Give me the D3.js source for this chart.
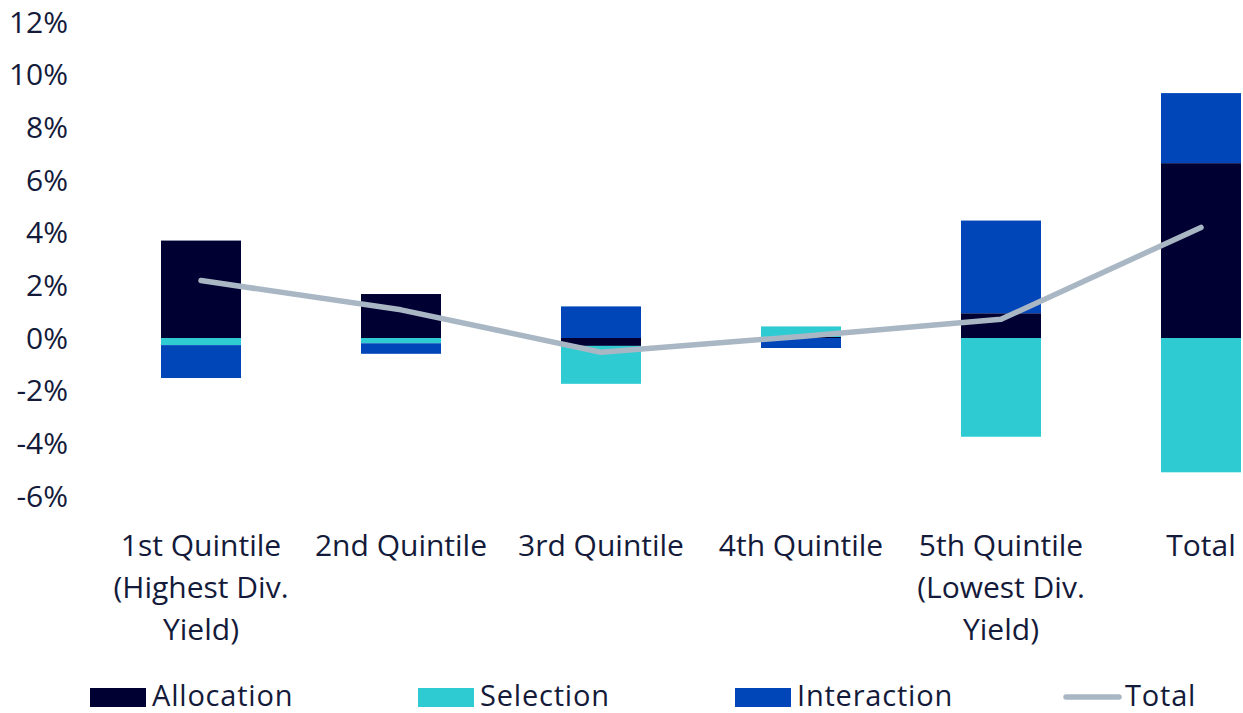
<!DOCTYPE html>
<html>
<head>
<meta charset="utf-8">
<script src="https://cdn.jsdelivr.net/npm/d3@7"></script>
<style>
  body { margin: 0; background: #fff; }
  text { font-family: 'Open Sans', sans-serif; fill: #141a3a; }
</style>
</head>
<body>
<svg id="chart"></svg>
<script>
const width = 1243
const height = 713

// data (percent)
const categories = [
  ['1st Quintile', '(Highest Div.', 'Yield)'],
  ['2nd Quintile'],
  ['3rd Quintile'],
  ['4th Quintile'],
  ['5th Quintile', '(Lowest Div.', 'Yield)'],
  ['Total'],
]
const allocation = [3.7, 1.67, -0.3, 0.04, 0.94, 6.64]
const selection = [-0.27, -0.2, -1.44, 0.4, -3.75, -5.1]
const interaction = [-1.25, -0.4, 1.2, -0.38, 3.52, 2.66]
const total = [2.18, 1.07, -0.54, 0.06, 0.71, 4.2]
const yTicks = [-6, -4, -2, 0, 2, 4, 6, 8, 10, 12]

const seriesNames = ['Allocation', 'Selection', 'Interaction']
const colors = { Allocation: '#000033', Selection: '#2ecbd2', Interaction: '#0046b9' }
const lineColor = '#a9b7c4'

const svg = d3.select('#chart').attr('width', width).attr('height', height)

const keys = categories.map((c) => c[0])

const x = d3.scaleBand().domain(keys).range([101, 1301]).paddingInner(0.6).paddingOuter(0.3)
const y = d3.scaleLinear().domain([-6, 12]).range([496, 22])

// y axis labels only
svg
  .append('g')
  .selectAll('text')
  .data(yTicks)
  .enter()
  .append('text')
  .attr('x', 68)
  .attr('y', (d) => y(d))
  .attr('dy', '0.35em')
  .attr('text-anchor', 'end')
  .style('font-size', '30px')
  .text((d) => d + '%')

// diverging stack: positives up, negatives down, in series order
const rows = keys.map((k, i) => ({
  key: k,
  Allocation: allocation[i],
  Selection: selection[i],
  Interaction: interaction[i],
}))
const stacked = d3.stack().keys(seriesNames).offset(d3.stackOffsetDiverging)(rows)

svg
  .append('g')
  .selectAll('g')
  .data(stacked)
  .enter()
  .append('g')
  .attr('fill', (s) => colors[s.key])
  .selectAll('rect')
  .data((s) => s)
  .enter()
  .append('rect')
  .attr('x', (d) => x(d.data.key))
  .attr('width', x.bandwidth())
  .attr('y', (d) => y(Math.max(d[0], d[1])))
  .attr('height', (d) => Math.abs(y(d[0]) - y(d[1])))

// total line
const line = d3
  .line()
  .x((d, i) => x(keys[i]) + x.bandwidth() / 2)
  .y((d) => y(d))

svg
  .append('path')
  .datum(total)
  .attr('d', line)
  .attr('fill', 'none')
  .attr('stroke', lineColor)
  .attr('stroke-width', 5.5)
  .attr('stroke-linecap', 'round')
  .attr('stroke-linejoin', 'round')

// category labels
const labels = svg
  .append('g')
  .selectAll('text')
  .data(categories)
  .enter()
  .append('text')
  .attr('text-anchor', 'middle')
  .style('font-size', '30px')

labels
  .selectAll('tspan')
  .data((d, i) => d.map((t) => ({ t, cx: x(keys[i]) + x.bandwidth() / 2 })))
  .enter()
  .append('tspan')
  .attr('x', (d) => d.cx)
  .attr('y', (d, j) => 545 + j * 42)
  .attr('dy', '0.35em')
  .text((d) => d.t)

// legend
const legendItems = [
  { name: 'Allocation', x: 90, type: 'rect' },
  { name: 'Selection', x: 418, type: 'rect' },
  { name: 'Interaction', x: 735, type: 'rect' },
  { name: 'Total', x: 1063, type: 'line' },
]
const legend = svg.append('g')
legendItems.forEach((it) => {
  if (it.type === 'rect') {
    legend
      .append('rect')
      .attr('x', it.x)
      .attr('y', 688)
      .attr('width', 56)
      .attr('height', 19)
      .attr('fill', colors[it.name])
  } else {
    legend
      .append('line')
      .attr('x1', it.x + 3)
      .attr('x2', it.x + 56)
      .attr('y1', 697)
      .attr('y2', 697)
      .attr('stroke', lineColor)
      .attr('stroke-width', 5.5)
      .attr('stroke-linecap', 'round')
  }
  legend
    .append('text')
    .attr('x', it.x + 62)
    .attr('y', 696)
    .attr('dy', '0.35em')
    .style('font-size', '29px')
    .style('letter-spacing', '0.8px')
    .text(it.name)
})
</script>
</body>
</html>
